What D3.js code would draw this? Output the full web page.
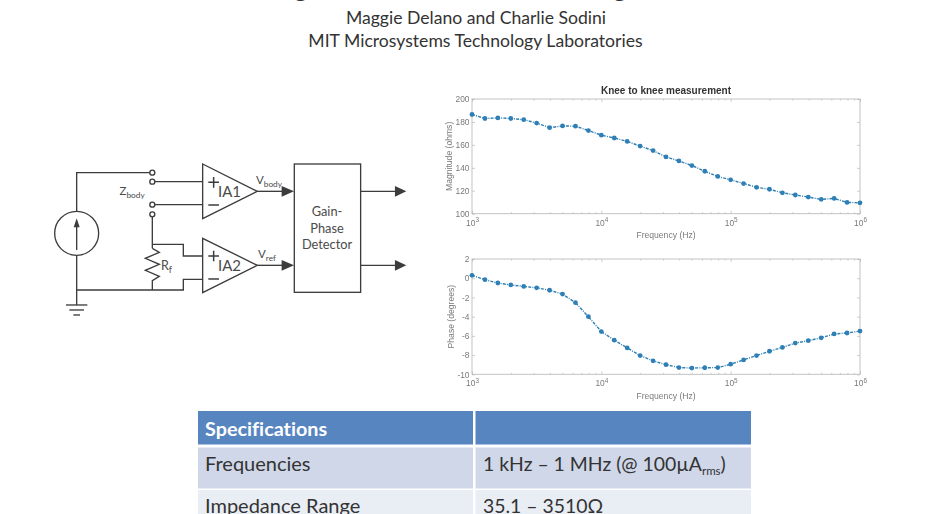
<!DOCTYPE html>
<html>
<head>
<meta charset="utf-8">
<script src="https://cdn.jsdelivr.net/npm/d3@7"></script>
<style>
  html, body { margin: 0; padding: 0; background: #fff; overflow: hidden; }
  svg { display: block; }
  .plot text { font-family: "Liberation Sans", Arial, sans-serif; }
  .slide { font-family: Lato, sans-serif; font-variant-ligatures: none; }
</style>
</head>
<body>
<div id="chart"></div>
<script>
const frequency = [1000, 1259, 1585, 1995, 2512, 3162, 3981, 5012, 6310, 7943,
  10000, 12589, 15849, 19953, 25119, 31623, 39811, 50119, 63096, 79433,
  100000, 125893, 158489, 199526, 251189, 316228, 398107, 501187, 630957, 794328, 1000000];
const magnitude = [186.5, 183, 183.5, 183, 182, 179, 175, 176.5, 176.3, 172.5,
  168.5, 166, 163, 159, 155, 149.5, 146, 142, 137, 132.5,
  129.5, 126.3, 123, 121.3, 118.2, 116.3, 114.5, 112.5, 113.3, 109.8, 109.5];
const phase = [0.3, -0.15, -0.5, -0.7, -0.85, -1, -1.25, -1.65, -2.55, -4,
  -5.55, -6.45, -7.25, -8.05, -8.6, -9, -9.3, -9.35, -9.32, -9.3,
  -8.95, -8.5, -8.05, -7.6, -7.2, -6.75, -6.5, -6.2, -5.8, -5.7, -5.5];
const decadeTicks = [1e3, 1e4, 1e5, 1e6];
const decadeExponents = [3, 4, 5, 6];
const minorTicks = [2e3, 3e3, 4e3, 5e3, 6e3, 7e3, 8e3, 9e3,
  2e4, 3e4, 4e4, 5e4, 6e4, 7e4, 8e4, 9e4,
  2e5, 3e5, 4e5, 5e5, 6e5, 7e5, 8e5, 9e5];
const magnitudeTicks = [100, 120, 140, 160, 180, 200];
const phaseTicks = [-10, -8, -6, -4, -2, 0, 2];
const tableRows = ["Frequencies", "Impedance Range"];

const width = 950, height = 514;
const svg = d3.select("#chart").append("svg")
  .attr("width", width)
  .attr("height", height);

const blurDefs = svg.append("defs");
blurDefs.append("filter").attr("id", "soft")
  .append("feGaussianBlur").attr("stdDeviation", 0.45);

// header text
const head = svg.append("g").attr("class", "slide").attr("fill", "#333").attr("text-anchor", "middle");
head.append("text").attr("x", 476).attr("y", 24).attr("font-size", 17.6).text("Maggie Delano and Charlie Sodini");
head.append("text").attr("x", 475.5).attr("y", 47).attr("font-size", 17.6).text("MIT Microsystems Technology Laboratories");
// only the descenders of the cropped title survive at the top edge
head.append("text").attr("x", 301).attr("y", -3).attr("font-size", 26).attr("font-weight", "bold").text("g");
head.append("text").attr("x", 620).attr("y", -3).attr("font-size", 26).attr("font-weight", "bold").text("g");

function drawPlot(opts) {
  const g = svg.append("g").attr("class", "plot").attr("filter", "url(#soft)");
  const x = d3.scaleLog().domain([1e3, 1e6]).range([472, 860]);
  const y = d3.scaleLinear().domain(opts.domain).range([opts.bottom, opts.top]);
  const axisColor = "#7a7a7a";

  g.append("rect")
    .attr("x", 472).attr("y", opts.top)
    .attr("width", 388).attr("height", opts.bottom - opts.top)
    .attr("fill", "none").attr("stroke", "#bdbdbd").attr("stroke-width", 0.9);

  const bottomAxis = g.append("g")
    .attr("transform", `translate(0,${opts.bottom})`)
    .call(d3.axisBottom(x).tickValues(decadeTicks).tickSize(-3).tickPadding(6).tickFormat(() => "10"));
  bottomAxis.selectAll("text").each(function (d, i) {
    d3.select(this).append("tspan")
      .attr("dy", -3.5).attr("font-size", 6.4).text(decadeExponents[i]);
  });
  g.append("g")
    .attr("transform", `translate(0,${opts.top})`)
    .call(d3.axisTop(x).tickValues(decadeTicks).tickSize(-3).tickFormat(""));
  g.append("g")
    .attr("transform", `translate(0,${opts.bottom})`)
    .call(d3.axisBottom(x).tickValues(minorTicks).tickSize(-1.5).tickFormat(""));
  g.append("g")
    .attr("transform", `translate(0,${opts.top})`)
    .call(d3.axisTop(x).tickValues(minorTicks).tickSize(-1.5).tickFormat(""));
  g.append("g")
    .attr("transform", "translate(472,0)")
    .call(d3.axisLeft(y).tickValues(opts.ticks).tickSize(-3).tickPadding(2.5).tickFormat(d => String(d)));
  g.append("g")
    .attr("transform", "translate(860,0)")
    .call(d3.axisRight(y).tickValues(opts.ticks).tickSize(-3).tickFormat(""));

  g.selectAll(".domain").attr("stroke", "none");
  g.selectAll(".tick line").attr("stroke", "#b0b0b0").attr("stroke-width", 0.6);
  g.selectAll(".tick text").attr("fill", axisColor).attr("font-size", 8.4);

  g.append("text")
    .attr("x", 666).attr("y", opts.bottom + 24.5)
    .attr("text-anchor", "middle").attr("fill", axisColor).attr("font-size", 8.6)
    .text("Frequency (Hz)");
  g.append("text")
    .attr("transform", `translate(${opts.labelX},${(opts.top + opts.bottom) / 2}) rotate(-90)`)
    .attr("text-anchor", "middle").attr("fill", axisColor).attr("font-size", 8.6)
    .text(opts.yLabel);

  const line = d3.line()
    .x((d, i) => x(frequency[i]))
    .y(d => y(d));
  g.append("path")
    .datum(opts.values)
    .attr("fill", "none")
    .attr("stroke", "#2f7fb5")
    .attr("stroke-width", 1.4)
    .attr("stroke-dasharray", "3 1.2 1 1.2")
    .attr("d", line);
  g.append("g").selectAll("circle")
    .data(opts.values)
    .join("circle")
    .attr("cx", (d, i) => x(frequency[i]))
    .attr("cy", d => y(d))
    .attr("r", 2.4)
    .attr("fill", "#2f7fb5");
  return g;
}

const magPlot = drawPlot({ domain: [100, 200], top: 99, bottom: 213.7, ticks: magnitudeTicks, values: magnitude, yLabel: "Magnitude (ohms)", labelX: 451.5 });
magPlot.append("text")
  .attr("x", 666).attr("y", 94)
  .attr("text-anchor", "middle").attr("font-weight", "bold").attr("fill", "#333").attr("font-size", 10)
  .text("Knee to knee measurement");
drawPlot({ domain: [-10, 2], top: 259, bottom: 374.3, ticks: phaseTicks, values: phase, yLabel: "Phase (degrees)", labelX: 454 });

// circuit diagram, coordinates
const circuit = svg.append("g").attr("transform", "translate(40,150) scale(0.3333)")
  .attr("fill", "none").attr("stroke", "#3c3c3c").attr("stroke-width", 4);
[
  "M110,184V68H330",
  "M345,95H488", "M345,164H488",
  "M337,200V295", "M337,283H430V318H488",
  "M110,316V465", "M110,420H430V388H488",
  "M337,295L358,307L316,325L358,343L316,361L358,379L337,392V420",
  "M78,465H142", "M88,480H132", "M100,495H120",
  "M652,124H735", "M652,346H735",
  "M962,124H1070", "M962,346H1070",
  "M110,300V225"
].forEach(d => circuit.append("path").attr("d", d));
circuit.append("circle").attr("cx", 110).attr("cy", 250).attr("r", 66);
[[337, 68], [337, 95], [337, 164], [337, 193]].forEach(p => {
  circuit.append("circle").attr("cx", p[0]).attr("cy", p[1]).attr("r", 7.5).attr("fill", "#fff");
});
circuit.append("path").attr("d", "M488,42V206L652,124Z");
circuit.append("path").attr("d", "M488,265V428L652,346Z");
circuit.append("rect").attr("x", 763).attr("y", 42).attr("width", 199).attr("height", 385);
[
  "M725,108L762,124L725,140Z", "M725,330L762,346L725,362Z",
  "M1065,108L1099,124L1065,140Z", "M1065,330L1099,346L1065,362Z",
  "M101,232L110,205L119,232Z"
].forEach(d => circuit.append("path").attr("d", d).attr("fill", "#3c3c3c").attr("stroke", "none"));
[
  "M505,97H537M521,81V113", "M505,165H537",
  "M505,318H537M521,302V334", "M505,387H537"
].forEach(d => circuit.append("path").attr("d", d).attr("stroke-width", 4.5));

const labels = svg.append("g").attr("class", "slide").attr("fill", "#4a4a4a");
function subLabel(px, py, main, sub, size) {
  const t = labels.append("text").attr("x", px).attr("y", py).attr("font-size", size).text(main);
  t.append("tspan").attr("font-size", size * 0.72).attr("dy", 2.5).text(sub);
}
subLabel(119.5, 195, "Z", "body", 11.5);
subLabel(256, 184, "V", "body", 11.5);
subLabel(258, 258, "V", "ref", 11.5);
subLabel(161, 270, "R", "f", 12.5);
labels.append("text").attr("x", 218).attr("y", 197).attr("font-size", 15).text("IA1");
labels.append("text").attr("x", 218).attr("y", 270.5).attr("font-size", 15).text("IA2");
[["Gain-", 216], ["Phase", 232.5], ["Detector", 249]].forEach(r => {
  labels.append("text").attr("x", 327).attr("y", r[1]).attr("text-anchor", "middle").attr("font-size", 12.8).text(r[0]);
});

// table
const table = svg.append("g").attr("class", "slide");
table.append("rect").attr("x", 198).attr("y", 411).attr("width", 275).attr("height", 33.5).attr("fill", "#5785bf");
table.append("rect").attr("x", 475.5).attr("y", 411).attr("width", 275.5).attr("height", 33.5).attr("fill", "#5785bf");
table.append("rect").attr("x", 198).attr("y", 447.5).attr("width", 275).attr("height", 41).attr("fill", "#cfd7e8");
table.append("rect").attr("x", 475.5).attr("y", 447.5).attr("width", 275.5).attr("height", 41).attr("fill", "#cfd7e8");
table.append("rect").attr("x", 198).attr("y", 490).attr("width", 275).attr("height", 24).attr("fill", "#e9edf4");
table.append("rect").attr("x", 475.5).attr("y", 490).attr("width", 275.5).attr("height", 24).attr("fill", "#e9edf4");
table.append("text").attr("x", 205).attr("y", 435.5).attr("font-size", 19.8).attr("font-weight", "bold").attr("fill", "#fff").text("Specifications");
table.append("text").attr("x", 205).attr("y", 470.5).attr("font-size", 20).attr("fill", "#333").text(tableRows[0]);
table.append("text").attr("x", 205).attr("y", 513).attr("font-size", 20).attr("fill", "#333").text(tableRows[1]);
const freqCell = table.append("text").attr("x", 483).attr("y", 470.5).attr("font-size", 19.4).attr("fill", "#333").text("1 kHz – 1 MHz (@ 100µA");
freqCell.append("tspan").attr("font-size", 11.5).attr("dy", 4).text("rms");
freqCell.append("tspan").attr("dy", -4).text(")");
table.append("text").attr("x", 483).attr("y", 513).attr("font-size", 19.4).attr("fill", "#333").text("35.1 – 3510Ω");
</script>
</body>
</html>
